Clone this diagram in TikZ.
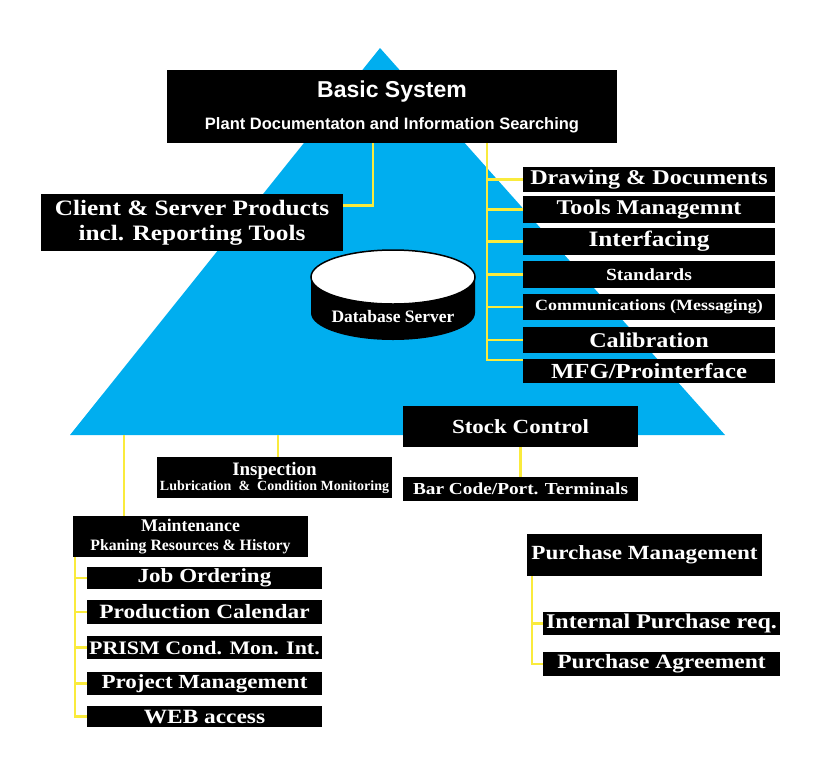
\documentclass[tikz,border=0pt]{standalone}
\usepackage{fontspec}
\setsansfont{Liberation Sans}
\newfontfamily\boxfont[FakeStretch=1.15]{Liberation Serif}
\newfontfamily\plainserif{Liberation Serif}
\newcommand\fsz[2]{\fontsize{#1}{#2}\selectfont}
\definecolor{pyramid}{RGB}{0,174,239}
\definecolor{linkyellow}{RGB}{250,235,60}

\begin{document}
\begin{tikzpicture}[x=1pt, y=-1pt,
    blackbox/.style={fill=black, text=white, inner sep=0pt, align=center, font=\boxfont\bfseries},
    rightbox/.style={blackbox, minimum width=252pt, minimum height=26pt},
    subbox/.style={blackbox, minimum width=235pt, minimum height=23pt},
    link/.style={draw=linkyellow, line width=2.5pt}]
    \useasboundingbox (0,0) rectangle (826,766);

    % pyramid
    \fill[pyramid] (380,48) -- (725,435) -- (70,435) -- cycle;

    % database server
    \fill (311,277) -- (311,313) arc[start angle=180, end angle=360, x radius=82pt, y radius=27pt] -- (475,277) -- cycle;
    \filldraw[fill=white, draw=black, line width=1.5pt] (393,277) ellipse[x radius=82pt, y radius=27pt];
    \node[text=white, font=\plainserif\bfseries\fsz{17.5}{20}] (dbserver) at (393,317) {Database Server};

    \node[blackbox, font=\sffamily\bfseries\fsz{16.5}{32}, minimum width=450pt, minimum height=73pt] (basic) at (392,106.5) {
        \fsz{23}{32}Basic System\\
        Plant Documentaton and Information Searching
    };
    \node[blackbox, font=\boxfont\bfseries\fsz{22}{25}, minimum width=302pt, minimum height=57pt] (client) at (192,222.5) {
        Client \& Server Products\\incl. Reporting Tools
    };

    \node[rightbox, minimum height=25pt] (drawdoc) at (649,179.5) {\fsz{21}{24}Drawing \& Documents};
    \node[rightbox, minimum height=27pt] (tools) at (649,209.5) {\fsz{21}{24}Tools Managemnt};
    \node[rightbox, minimum height=27pt] (iface) at (649,241.5) {\fsz{22}{24}Interfacing};
    \node[rightbox, minimum height=27pt] (stds) at (649,274.5) {\fsz{17}{20}Standards};
    \node[rightbox] (comms) at (649,307) {\fsz{15.6}{18}Communications (Messaging)};
    \node[rightbox] (calib) at (649,340) {\fsz{21}{24}Calibration};
    \node[rightbox, minimum height=24pt] (mfg) at (649,371) {\fsz{21.5}{24}MFG/Prointerface};

    \node[blackbox, minimum width=235pt, minimum height=41pt] (stock) at (520.5,426.5) {\fsz{20}{24}Stock Control};
    \node[subbox, minimum height=24pt] (barcode) at (520.5,489) {\fsz{16.8}{20}Bar Code/Port. Terminals};
    \node[blackbox, font=\plainserif\bfseries\fsz{14}{15}, minimum width=235pt, minimum height=41pt] (inspect) at (274.5,477.5) {
        \fsz{19}{15}Inspection\\
        Lubrication\ \ \&\ \ Condition Monitoring
    };

    \node[blackbox, font=\plainserif\bfseries\fsz{15.8}{18.5}, minimum width=235pt, minimum height=41pt] (maint) at (190.5,536.5) {
        \fsz{17.8}{18.5}Maintenance\\
        Pkaning Resources \& History
    };
    \node[subbox, minimum height=22pt] (job) at (204.5,578) {\fsz{20}{24}Job Ordering};
    \node[subbox, minimum height=24pt] (prod) at (204.5,612) {\fsz{20.3}{24}Production Calendar};
    \node[subbox] (prism) at (204.5,647.5) {\fsz{19.1}{24}PRISM Cond. Mon. Int.};
    \node[subbox] (proj) at (204.5,683.5) {\fsz{20}{24}Project Management};
    \node[subbox, minimum height=21pt] (web) at (204.5,716.5) {\fsz{20.3}{24}WEB access};

    \node[blackbox, minimum width=235pt, minimum height=42pt] (purch) at (644.5,555) {\fsz{20.1}{24}Purchase Management};
    \node[subbox, minimum width=237pt] (ipr) at (661.5,623.5) {\fsz{20.9}{24}Internal Purchase req.};
    \node[subbox, minimum width=237pt, minimum height=24pt] (agree) at (661.5,664) {\fsz{20.4}{24}Purchase Agreement};

    % connectors
    \coordinate (lbus) at ([xshift=-19pt]basic.south);
    \draw[link] (lbus) |- ([yshift=17pt]client.east);
    \coordinate (rbus) at ([xshift=95pt]basic.south);
    \draw[link] (rbus) |- ([yshift=11pt]mfg.west);
    \foreach \b in {drawdoc,tools,iface,stds,comms,calib}
        \draw[link] (rbus |- \b.west) -- (\b.west);

    \coordinate (maintdrop) at (124,435);
    \coordinate (inspdrop) at (278,435);
    \draw[link] (maintdrop) -- (maintdrop |- maint.north);
    \draw[link] (inspdrop) -- (inspdrop |- inspect.north);
    \draw[link] (stock) -- (barcode);

    \coordinate (mbus) at ([xshift=2pt]maint.south west);
    \draw[link] (mbus) |- (web.west);
    \foreach \b in {job,prod,prism,proj}
        \draw[link] (mbus |- \b.west) -- (\b.west);

    \coordinate (pbus) at ([xshift=5pt]purch.south west);
    \draw[link] (pbus) |- (agree.west);
    \draw[link] (pbus |- ipr.west) -- (ipr.west);
\end{tikzpicture}
\end{document}
